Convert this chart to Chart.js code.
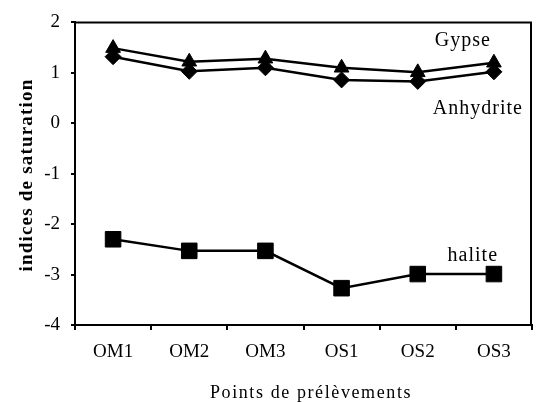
<!DOCTYPE html>
<html>
<head>
<meta charset="utf-8">
<script src="https://cdn.jsdelivr.net/npm/chart.js@4/dist/chart.umd.min.js"></script>
<style>
  html, body { margin: 0; padding: 0; background: #fff; }
  #wrap { width: 544px; height: 402px; }
</style>
</head>
<body>
<div id="wrap"><canvas id="c"></canvas></div>
<script>
const points = ['OM1', 'OM2', 'OM3', 'OS1', 'OS2', 'OS3'];
const gypse = [1.49, 1.22, 1.28, 1.10, 1.01, 1.20];
const anhydrite = [1.32, 1.03, 1.10, 0.86, 0.83, 1.02];
const halite = [-2.30, -2.53, -2.53, -3.27, -2.99, -2.99];

const yTitle = 'indices de saturation';
const xTitle = 'Points de prélèvements';

const serif = '"Liberation Serif", "Times New Roman", serif';

// frame (top + right), axis titles and series labels
const extras = {
    id: 'extras',
    afterDraw(chart) {
        const ctx = chart.ctx;
        const a = chart.chartArea;
        const xs = chart.scales.x, ys = chart.scales.y;
        ctx.save();
        ctx.strokeStyle = '#000';
        ctx.lineWidth = 2;
        ctx.beginPath();
        ctx.moveTo(a.left, a.top);
        ctx.lineTo(a.right - 1, a.top);
        ctx.lineTo(a.right - 1, a.bottom);
        ctx.stroke();

        ctx.fillStyle = '#000';
        ctx.letterSpacing = '1px';
        ctx.font = '20px ' + serif;
        ctx.textAlign = 'center';
        ctx.textBaseline = 'alphabetic';
        const lx = xs.getPixelForValue(4.5);
        ctx.fillText('Gypse', lx + 7, ys.getPixelForValue(1.54));
        ctx.fillText('Anhydrite', lx + 22, ys.getPixelForValue(0.19));
        ctx.fillText('halite', lx + 17, ys.getPixelForValue(-2.73));

        ctx.letterSpacing = '1.6px';
        ctx.font = '18px ' + serif;
        ctx.fillText(xTitle, 311, 398);

        ctx.letterSpacing = '1.2px';
        ctx.font = 'bold 19px ' + serif;
        ctx.translate(32, 175);
        ctx.rotate(-Math.PI / 2);
        ctx.fillText(yTitle, 0, 0);
        ctx.restore();
    }
};

new Chart(document.getElementById('c'), {
    type: 'line',
    data: {
        labels: points,
        datasets: [
            {
                label: 'Gypse',
                data: gypse,
                borderColor: '#000',
                backgroundColor: '#000',
                borderWidth: 2.5,
                pointStyle: 'triangle',
                pointRadius: 8.5,
                pointBorderWidth: 1,
            },
            {
                label: 'Anhydrite',
                data: anhydrite,
                borderColor: '#000',
                backgroundColor: '#000',
                borderWidth: 2.5,
                pointStyle: 'rectRot',
                pointRadius: 8,
                pointBorderWidth: 1,
            },
            {
                label: 'halite',
                data: halite,
                borderColor: '#000',
                backgroundColor: '#000',
                borderWidth: 2.5,
                pointStyle: 'rect',
                pointRadius: 11,
                pointBorderWidth: 1,
            }
        ]
    },
    options: {
        responsive: true,
        maintainAspectRatio: false,
        animation: false,
        layout: {
            padding: { top: 17, right: 2, left: 0, bottom: 0 }
        },
        scales: {
            x: {
                offset: true,
                grid: {
                    offset: true,
                    drawOnChartArea: false,
                    color: '#000',
                    lineWidth: 2,
                    tickLength: 5,
                },
                border: { color: '#000', width: 2 },
                ticks: {
                    color: '#000',
                    font: { family: serif, size: 19 },
                    padding: 11,
                    maxRotation: 0,
                },
                afterFit(scale) { scale.height = 77; },
            },
            y: {
                min: -4,
                max: 2,
                ticks: {
                    stepSize: 1,
                    color: '#000',
                    font: { family: serif, size: 19 },
                    padding: 11,
                },
                grid: {
                    drawOnChartArea: false,
                    color: '#000',
                    lineWidth: 2,
                    tickLength: 4,
                },
                border: { color: '#000', width: 2 },
                afterFit(scale) { scale.width = 75; },
            }
        },
        plugins: {
            legend: { display: false },
            tooltip: { enabled: false },
        }
    },
    plugins: [extras]
});
</script>
</body>
</html>
